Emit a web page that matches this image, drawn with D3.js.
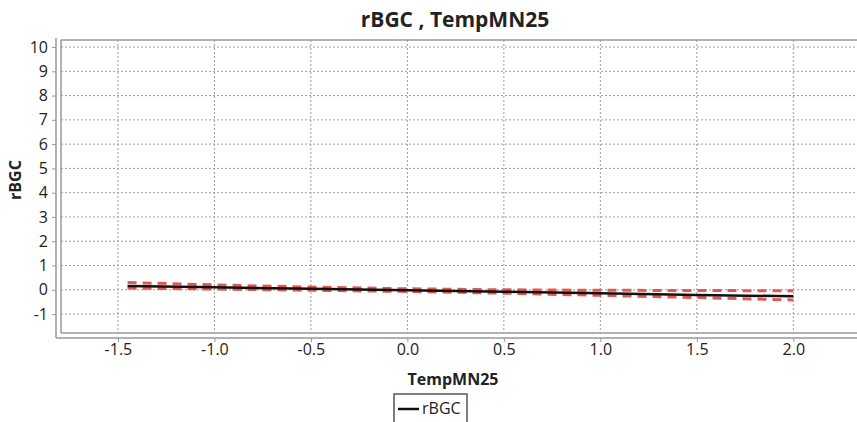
<!DOCTYPE html>
<html>
<head>
<meta charset="utf-8">
<script src="https://cdn.jsdelivr.net/npm/d3@7"></script>
<style>
  body { margin: 0; background: #fff; }
  svg { display: block; font-family: "Open Sans", sans-serif; }
</style>
</head>
<body>
<svg id="chart"></svg>
<script>
const W = 857, H = 422;

// fitted line and its confidence band
const xs = [-1.45, -1.0, -0.5, 0.0, 0.5, 1.0, 1.5, 2.0];
const fit = [0.16, 0.10, 0.04, -0.02, -0.08, -0.14, -0.21, -0.27];
const upper = [0.30, 0.20, 0.11, 0.04, 0.00, -0.02, -0.03, -0.04];
const lower = [0.07, 0.03, -0.02, -0.07, -0.14, -0.23, -0.32, -0.42];

const xTicks = [-1.5, -1.0, -0.5, 0.0, 0.5, 1.0, 1.5, 2.0];
const yTicks = [-1, 0, 1, 2, 3, 4, 5, 6, 7, 8, 9, 10];

const plotLeft = 61, plotRight = 857, plotTop = 40, plotBottom = 333;

const svg = d3.select('#chart')
  .attr('width', W)
  .attr('height', H);

const x = d3.scaleLinear().domain([-1.795, 2.33]).range([plotLeft, plotRight]);
const y = d3.scaleLinear().domain([-1.78, 10.29]).range([plotBottom, plotTop]);

// hyphen minus like the original
const fmtX = d => d3.format('.1f')(d).replace('−', '-');
const fmtY = d => d3.format('d')(d).replace('−', '-');

// title
svg.append('text')
  .attr('x', 455).attr('y', 27)
  .attr('text-anchor', 'middle')
  .attr('font-size', '21px')
  .attr('font-weight', 'bold')
  .attr('fill', '#222')
  .text('rBGC , TempMN25');

// grid
const grid = svg.append('g');
grid.selectAll('.gx').data(xTicks).enter().append('line')
  .attr('x1', d => x(d)).attr('x2', d => x(d))
  .attr('y1', plotTop).attr('y2', plotBottom)
  .attr('stroke', '#a09a96').attr('stroke-dasharray', '2,2');
grid.selectAll('.gy').data(yTicks).enter().append('line')
  .attr('x1', plotLeft).attr('x2', plotRight)
  .attr('y1', d => y(d)).attr('y2', d => y(d))
  .attr('stroke', '#a09a96').attr('stroke-dasharray', '2,2');

// plot border
svg.append('line')
  .attr('x1', plotLeft).attr('x2', plotRight)
  .attr('y1', plotTop).attr('y2', plotTop)
  .attr('stroke', '#999').attr('stroke-width', 1.5);
svg.append('line')
  .attr('x1', plotLeft).attr('x2', plotLeft)
  .attr('y1', plotTop).attr('y2', plotBottom)
  .attr('stroke', '#999').attr('stroke-width', 1.5);
svg.append('line')
  .attr('x1', plotLeft).attr('x2', plotRight)
  .attr('y1', plotBottom).attr('y2', plotBottom)
  .attr('stroke', '#999').attr('stroke-width', 1.5);

// axes
const yAxis = svg.append('g')
  .attr('transform', 'translate(56,0)')
  .call(d3.axisLeft(y).tickValues(yTicks).tickSize(4).tickPadding(4).tickFormat(fmtY));
const xAxis = svg.append('g')
  .attr('transform', 'translate(0,338)')
  .call(d3.axisBottom(x).tickValues(xTicks).tickSize(4).tickPadding(2).tickFormat(fmtX));

[xAxis, yAxis].forEach(a => {
  a.attr('font-size', null).attr('font-family', null);
  a.select('.domain').attr('stroke', '#999').attr('stroke-width', 1.5);
  a.selectAll('.tick line').attr('stroke', '#999');
  a.selectAll('.tick text')
    .style('font-size', '16px')
    .attr('fill', '#222');
});
xAxis.select('.domain').attr('d', `M${plotLeft - 5},0H${plotRight}`);
yAxis.select('.domain').attr('d', `M0,${plotTop - 2}V${plotBottom + 5}`);

// axis titles
svg.append('text')
  .attr('x', 453).attr('y', 385)
  .attr('text-anchor', 'middle')
  .attr('font-size', '16px')
  .attr('font-weight', 'bold')
  .attr('fill', '#222')
  .text('TempMN25');
svg.append('text')
  .attr('transform', 'translate(21,180) rotate(-90)')
  .attr('text-anchor', 'middle')
  .attr('font-size', '16px')
  .attr('font-weight', 'bold')
  .attr('fill', '#222')
  .text('rBGC');

// lines
const lineGen = vals => d3.line()
  .x((d, i) => x(xs[i]))
  .y(d => y(d))(vals);

const plot = svg.append('g');
[upper, lower].forEach(vals => {
  plot.append('path')
    .attr('d', lineGen(vals))
    .attr('fill', 'none')
    .attr('stroke', '#e05a55')
    .attr('stroke-width', 3)
    .attr('stroke-dasharray', '9,6');
});
plot.append('path')
  .attr('d', lineGen(fit))
  .attr('fill', 'none')
  .attr('stroke', '#111')
  .attr('stroke-width', 2.5);

// legend
const legend = svg.append('g').attr('transform', 'translate(394,394)');
legend.append('rect')
  .attr('width', 73).attr('height', 32)
  .attr('fill', '#fff')
  .attr('stroke', '#555').attr('stroke-width', 1.5);
legend.append('line')
  .attr('x1', 4).attr('x2', 25)
  .attr('y1', 15).attr('y2', 15)
  .attr('stroke', '#111').attr('stroke-width', 2.5);
legend.append('text')
  .attr('x', 28).attr('y', 20)
  .attr('font-size', '16px')
  .attr('fill', '#222')
  .text('rBGC');
</script>
</body>
</html>
